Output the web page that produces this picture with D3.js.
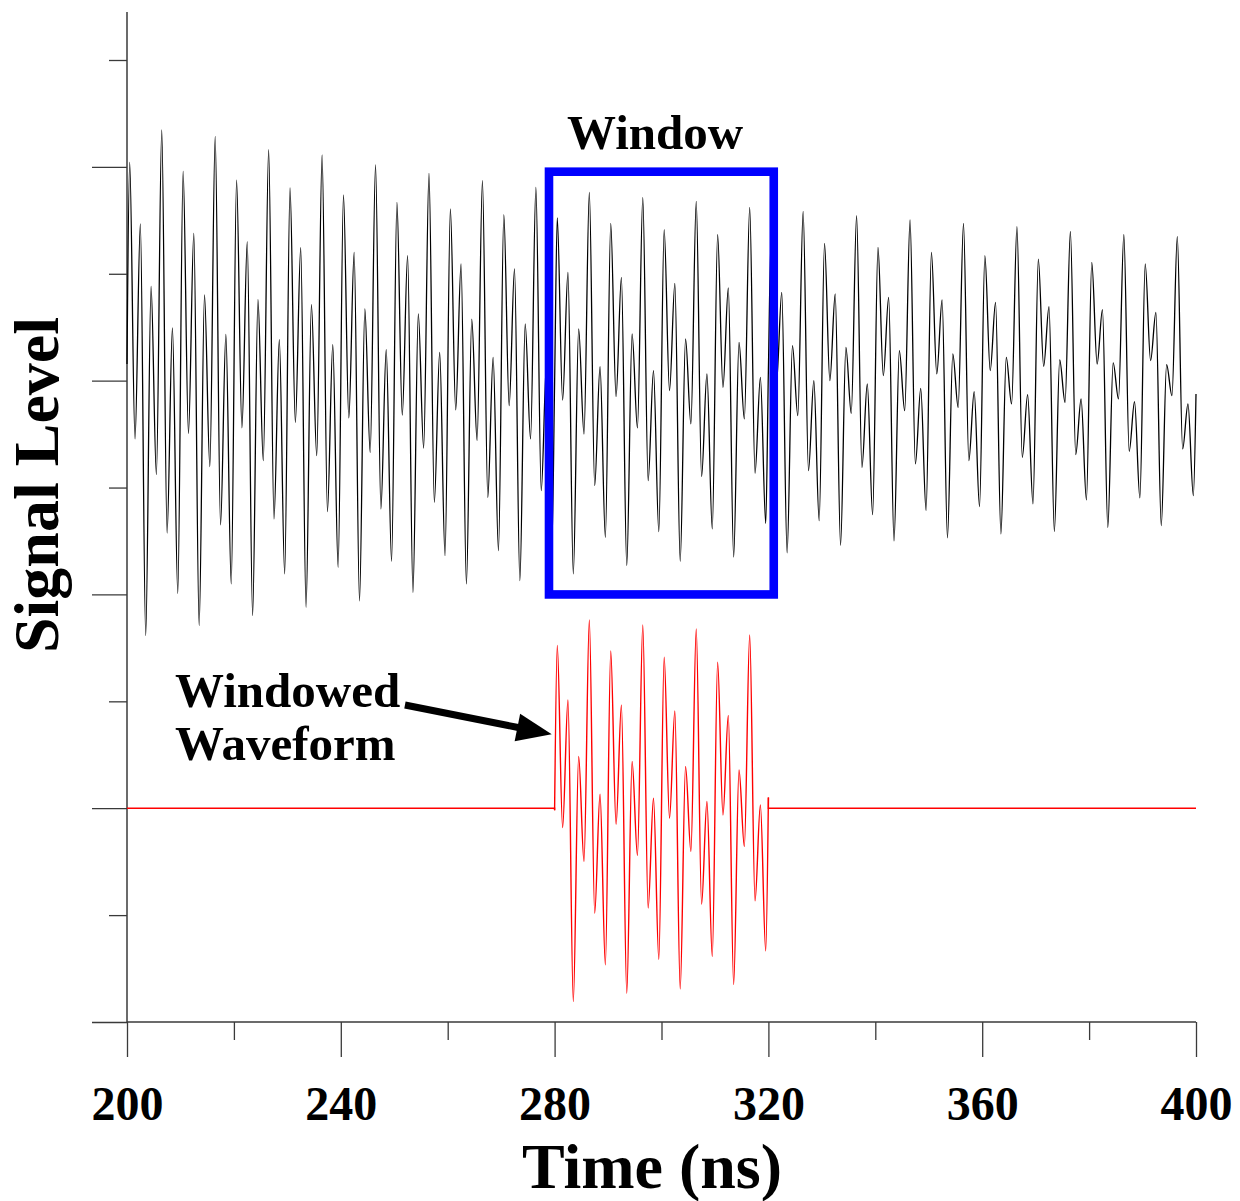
<!DOCTYPE html>
<html>
<head>
<meta charset="utf-8">
<script src="https://cdn.jsdelivr.net/npm/d3@7"></script>
<style>
  html, body { margin: 0; padding: 0; background: #ffffff; }
  svg { display: block; }
  text { font-family: "Liberation Serif", "Times New Roman", serif; font-weight: bold; fill: #000; }
</style>
</head>
<body>
<svg id="chart" width="1240" height="1201"></svg>
<script>
// Sample instants in ns: record ends, window edges and the waveform's turning points
const sampleTimes = [
  200,
  200.5, 201.5, 202.5, 203.5, 204.5, 205.5, 206.5, 207.5, 208.5, 209.5,
  210.5, 211.5, 212.5, 213.5, 214.5, 215.5, 216.5, 217.5, 218.5, 219.5,
  220.5, 221.5, 222.5, 223.5, 224.5, 225.5, 226.5, 227.5, 228.5, 229.5,
  230.5, 231.5, 232.5, 233.5, 234.5, 235.5, 236.5, 237.5, 238.5, 239.5,
  240.5, 241.5, 242.5, 243.5, 244.5, 245.5, 246.5, 247.5, 248.5, 249.5,
  250.5, 251.5, 252.5, 253.5, 254.5, 255.5, 256.5, 257.5, 258.5, 259.5,
  260.5, 261.5, 262.5, 263.5, 264.5, 265.5, 266.5, 267.5, 268.5, 269.5,
  270.5, 271.5, 272.5, 273.5, 274.5, 275.5, 276.5, 277.5, 278.5, 279.5,
  280,
  280.5, 281.5, 282.5, 283.5, 284.5, 285.5, 286.5, 287.5, 288.5, 289.5,
  290.5, 291.5, 292.5, 293.5, 294.5, 295.5, 296.5, 297.5, 298.5, 299.5,
  300.5, 301.5, 302.5, 303.5, 304.5, 305.5, 306.5, 307.5, 308.5, 309.5,
  310.5, 311.5, 312.5, 313.5, 314.5, 315.5, 316.5, 317.5, 318.5, 319.5,
  320,
  320.5, 321.5, 322.5, 323.5, 324.5, 325.5, 326.5, 327.5, 328.5, 329.5,
  330.5, 331.5, 332.5, 333.5, 334.5, 335.5, 336.5, 337.5, 338.5, 339.5,
  340.5, 341.5, 342.5, 343.5, 344.5, 345.5, 346.5, 347.5, 348.5, 349.5,
  350.5, 351.5, 352.5, 353.5, 354.5, 355.5, 356.5, 357.5, 358.5, 359.5,
  360.5, 361.5, 362.5, 363.5, 364.5, 365.5, 366.5, 367.5, 368.5, 369.5,
  370.5, 371.5, 372.5, 373.5, 374.5, 375.5, 376.5, 377.5, 378.5, 379.5,
  380.5, 381.5, 382.5, 383.5, 384.5, 385.5, 386.5, 387.5, 388.5, 389.5,
  390.5, 391.5, 392.5, 393.5, 394.5, 395.5, 396.5, 397.5, 398.5, 399.5,
  400
];

// Received signal level at each instant (one division = 1)
const signalLevels = [
  0.156,
  2.042, -0.545, 1.466, -2.385, 0.882, -0.879, 2.345, -1.425, 0.493, -1.990,
  1.958, -0.493, 1.378, -2.292, 0.802, -0.804, 2.285, -1.350, 0.433, -1.902,
  1.877, -0.442, 1.300, -2.198, 0.758, -0.748, 2.161, -1.294, 0.384, -1.808,
  1.803, -0.390, 1.244, -2.120, 0.711, -0.702, 2.111, -1.225, 0.337, -1.747,
  1.737, -0.349, 1.200, -2.060, 0.671, -0.671, 2.018, -1.200, 0.290, -1.690,
  1.668, -0.321, 1.169, -1.980, 0.624, -0.630, 1.939, -1.138, 0.265, -1.637,
  1.606, -0.274, 1.092, -1.902, 0.575, -0.560, 1.871, -1.092, 0.218, -1.590,
  1.553, -0.234, 1.045, -1.871, 0.530, -0.545, 1.808, -1.029, 0.175, -1.530,
  -0.020,
  1.522, -0.181, 1.013, -1.808, 0.484, -0.499, 1.761, -0.982, 0.131, -1.466,
  1.471, -0.150, 0.966, -1.731, 0.437, -0.442, 1.715, -0.935, 0.094, -1.413,
  1.413, -0.094, 0.910, -1.690, 0.390, -0.405, 1.677, -0.898, 0.063, -1.387,
  1.366, -0.063, 0.867, -1.650, 0.358, -0.358, 1.621, -0.867, 0.031, -1.335,
  0.100,
  1.320, -0.030, 0.826, -1.610, 0.327, -0.327, 1.584, -0.842, 0.000, -1.310,
  1.284, 0.000, 0.811, -1.540, 0.311, -0.306, 1.543, -0.811, -0.031, -1.254,
  1.247, 0.047, 0.779, -1.500, 0.281, -0.281, 1.503, -0.779, -0.072, -1.216,
  1.200, 0.063, 0.755, -1.470, 0.250, -0.250, 1.471, -0.748, -0.103, -1.179,
  1.169, 0.094, 0.732, -1.434, 0.218, -0.218, 1.441, -0.717, -0.131, -1.153,
  1.138, 0.134, 0.692, -1.410, 0.194, -0.203, 1.397, -0.692, -0.171, -1.116,
  1.107, 0.156, 0.664, -1.372, 0.166, -0.171, 1.366, -0.661, -0.196, -1.097,
  1.092, 0.187, 0.639, -1.356, 0.150, -0.140, 1.347, -0.639, -0.218, -1.076,
  -0.124
];

// Gate applied to produce the windowed waveform (ns)
const windowStart = 280;
const windowEnd = 320;

// Vertical placement of the two traces (divisions)
const rawTraceBaseline = 4;
const windowedTraceBaseline = 0;

// Axis ticks
const timeTicksMajor = [200, 240, 280, 320, 360, 400];
const timeTicksMinor = [220, 260, 300, 340, 380];
const levelTicksMajor = [-2, 0, 2, 4, 6];
const levelTicksMinor = [-1, 1, 3, 5, 7];

// ---------------------------------------------------------------------------
const svg = d3.select("#chart");

const x = d3.scaleLinear().domain([200, 400]).range([127, 1196]);
const y = d3.scaleLinear().domain([-2, 7]).range([1022, 60]);

const samples = sampleTimes.map((t, i) => ({ t, v: signalLevels[i] }));
const gated = samples.filter(d => d.t >= windowStart && d.t <= windowEnd);

const axisColor = "#3a3a3a";

// Y axis: spine plus long/short ticks, no labels
const yAxisG = svg.append("g");
yAxisG.append("line")
  .attr("x1", x(200)).attr("x2", x(200))
  .attr("y1", y(7.45)).attr("y2", y(-2))
  .attr("stroke", axisColor).attr("stroke-width", 1.5);
yAxisG.append("g")
  .attr("transform", `translate(${x(200)},0)`)
  .call(d3.axisLeft(y).tickValues(levelTicksMajor).tickSize(35).tickFormat(""))
  .call(g => g.select(".domain").remove())
  .call(g => g.selectAll("line").attr("stroke", axisColor).attr("stroke-width", 1.3));
yAxisG.append("g")
  .attr("transform", `translate(${x(200)},0)`)
  .call(d3.axisLeft(y).tickValues(levelTicksMinor).tickSize(18).tickFormat(""))
  .call(g => g.select(".domain").remove())
  .call(g => g.selectAll("line").attr("stroke", axisColor).attr("stroke-width", 1.3));

// X axis
const xAxisG = svg.append("g");
xAxisG.append("line")
  .attr("x1", x(200)).attr("x2", x(400))
  .attr("y1", y(-2)).attr("y2", y(-2))
  .attr("stroke", axisColor).attr("stroke-width", 1.5);
xAxisG.append("g")
  .attr("transform", `translate(0,${y(-2)})`)
  .call(d3.axisBottom(x).tickValues(timeTicksMajor).tickSize(35).tickPadding(29).tickFormat(d3.format("d")))
  .call(g => g.select(".domain").remove())
  .call(g => g.selectAll("line").attr("stroke", axisColor).attr("stroke-width", 1.3))
  .call(g => g.selectAll("text")
    .attr("font-family", "Liberation Serif, Times New Roman, serif")
    .attr("font-weight", "bold")
    .attr("font-size", 48)
    .attr("fill", "#000"));
xAxisG.append("g")
  .attr("transform", `translate(0,${y(-2)})`)
  .call(d3.axisBottom(x).tickValues(timeTicksMinor).tickSize(18).tickFormat(""))
  .call(g => g.select(".domain").remove())
  .call(g => g.selectAll("line").attr("stroke", axisColor).attr("stroke-width", 1.3));

// Axis titles
svg.append("text")
  .attr("x", 652).attr("y", 1188)
  .attr("text-anchor", "middle")
  .attr("font-size", 64)
  .text("Time (ns)");

svg.append("text")
  .attr("transform", `translate(58,${485}) rotate(-90)`)
  .attr("text-anchor", "middle")
  .attr("font-size", 64)
  .text("Signal Level");

// Raw received waveform
const traceLine = base => d3.line()
  .x(d => x(d.t))
  .y(d => y(d.v + base))
  .curve(d3.curveMonotoneX);

svg.append("path")
  .datum(samples)
  .attr("fill", "none")
  .attr("stroke", "#000")
  .attr("stroke-width", 1.3)
  .attr("d", traceLine(rawTraceBaseline));

// Windowed waveform: zero outside the gate, the raw signal inside it
const first = gated[0], last = gated[gated.length - 1];
const flatLine = d3.line().x(d => x(d.t)).y(d => y(d.v + windowedTraceBaseline));
const red = "#ff0000";
svg.append("path")
  .attr("fill", "none").attr("stroke", red).attr("stroke-width", 1.4)
  .attr("d", flatLine([{ t: 200, v: 0 }, { t: windowStart, v: 0 }, first]));
svg.append("path")
  .datum(gated)
  .attr("fill", "none").attr("stroke", red).attr("stroke-width", 1.4)
  .attr("d", traceLine(windowedTraceBaseline));
svg.append("path")
  .attr("fill", "none").attr("stroke", red).attr("stroke-width", 1.4)
  .attr("d", flatLine([last, { t: windowEnd, v: 0 }, { t: 400, v: 0 }]));

// Gate outline on the raw waveform
svg.append("rect")
  .attr("x", x(278.95))
  .attr("y", y(5.955))
  .attr("width", x(321.0) - x(278.95))
  .attr("height", y(2) - y(5.955))
  .attr("fill", "none")
  .attr("stroke", "#0000ff")
  .attr("stroke-width", 8.6);

svg.append("text")
  .attr("x", x(298.8)).attr("y", y(6.17))
  .attr("text-anchor", "middle")
  .attr("font-size", 49)
  .text("Window");

// Label and arrow for the windowed trace
const label = svg.append("text")
  .attr("x", x(209)).attr("y", y(0.948))
  .attr("font-size", 49);
label.append("tspan").attr("x", x(209)).text("Windowed");
label.append("tspan").attr("x", x(209)).attr("y", y(0.449)).text("Waveform");

const a0 = [x(252.0), y(0.966)];
const a1 = [x(279.46), y(0.692)];
const dx = a1[0] - a0[0], dy = a1[1] - a0[1];
const len = Math.hypot(dx, dy);
const ux = dx / len, uy = dy / len;
const headLen = 35, headHalf = 14;
const baseX = a1[0] - ux * headLen, baseY = a1[1] - uy * headLen;
svg.append("line")
  .attr("x1", a0[0]).attr("y1", a0[1])
  .attr("x2", baseX + ux * 2).attr("y2", baseY + uy * 2)
  .attr("stroke", "#000").attr("stroke-width", 7);
svg.append("path")
  .attr("d", d3.line()([
    a1,
    [baseX - uy * headHalf, baseY + ux * headHalf],
    [baseX + uy * headHalf, baseY - ux * headHalf]
  ]) + "Z")
  .attr("fill", "#000");
</script>
</body>
</html>
